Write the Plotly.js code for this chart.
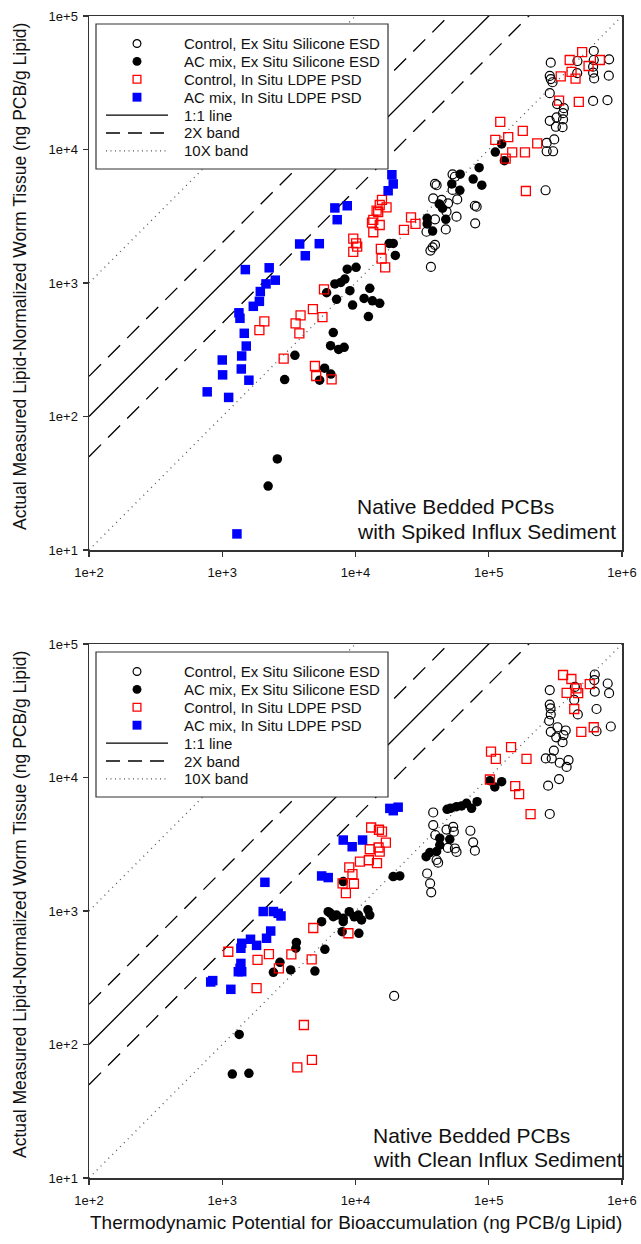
<!DOCTYPE html>
<html>
<head>
<meta charset="utf-8">
<script src="https://cdn.plot.ly/plotly-3.0.1.min.js"></script>
<style>html,body{margin:0;padding:0;background:#fff;}#chart{width:641px;height:1244px;}</style>
</head>
<body>
<div id="chart"></div>
<script>
// ---------- Data: top panel (Native Bedded PCBs with Spiked Influx Sediment) ----------
const ctrlExTopX = [614000,800000,463000,614000,292000,607000,461000,607000,796000,618000,287000,292000,301000,287000,607000,778000,326000,366000,361000,323000,287000,361000,319000,358000,310000,272000,272000,304000,267000,53500,55700,39500,40600,53500,38300,44300,49500,58000,48200,57300,39500,34100,47600,39500,37900,36500,36800,78700,81100,79100];
const ctrlExTopY = [54700,47400,46000,46800,44700,41700,37300,37600,35700,34100,35600,33700,31900,26400,23100,23400,21900,20400,18700,17400,16400,16800,14800,14700,11900,11200,9700,9700,4950,6520,6250,5520,5400,4980,4300,4190,3950,4230,3420,3140,3000,2420,2520,1930,1850,1750,1320,3790,3730,2800];
const acExTopX = [125000,112000,131000,84700,76400,88700,61000,52800,60700,42500,45000,47600,34500,34500,37900,17900,19200,19900,10100,8670,8320,7760,7000,9080,6070,7210,9510,12800,11600,13400,15200,12500,6810,6500,7470,8220,3510,5860,6530,5380,2940,2590,2210];
const acExTopY = [11000,9570,8240,7310,6010,5400,6530,5520,4950,3910,3630,3000,3050,2770,2450,1980,1980,1610,1310,1270,1070,1010,985,876,845,755,684,912,767,736,705,560,425,339,318,330,287,230,208,187,189,48.1,30.1];
const ctrlInTopX = [502000,405000,682000,561000,418000,347000,448000,337000,474000,122000,180000,140000,112000,231000,150000,187000,134000,190000,15800,15200,17100,14400,14800,13600,13300,15200,13600,26100,28200,23100,9620,10100,10300,9620,15500,15700,16700,5800,5650,4790,3870,3550,3790,2070,1900,2890,4960,5070,6620];
const ctrlInTopY = [53700,46800,46800,42200,38100,35300,33900,23200,22700,16100,13800,12400,11800,11100,9530,9530,8530,4890,4190,3840,3690,3480,3390,2970,2830,2720,2400,3100,2770,2500,2150,1980,1870,1710,1800,1520,1310,897,556,638,573,499,420,516,444,271,239,201,190];
const acInTopX = [18750,19190,17580,8670,7000,7290,3810,5350,4200,2250,1490,2500,2130,1930,1900,1710,1334,1358,1463,1514,1399,1000,1390,1006,1585,771,1117,1289];
const acInTopY = [6470,5520,4910,3790,3650,2980,1960,1970,1600,1300,1260,1050,985,863,729,669,598,544,420,337,284,265,227,205,187,153,139,13.2];

// ---------- Data: bottom panel (Native Bedded PCBs with Clean Influx Sediment) ----------
const ctrlExBotX = [625000,781000,620000,443000,625000,800000,287000,438000,466000,644000,287000,291000,292000,284000,824000,644000,292000,328000,378000,364000,321000,358000,308000,268000,297000,341000,397000,384000,337000,279000,287000,38300,38300,39700,48200,54100,54700,72800,76400,78700,49300,55700,57300,40600,41700,34500,36300,37000,19500];
const ctrlExBotY = [59100,50600,53700,47700,44000,42800,45200,38100,29700,32600,35200,33000,29700,26600,24100,22200,22000,23800,22500,20800,20000,18400,15900,13900,13900,12900,13500,12000,9740,8690,5330,5470,4400,3710,4070,4260,3930,3990,3270,2830,2970,2940,2770,2410,2300,1910,1610,1380,231];
const acExBotX = [102000,111000,125000,48700,51600,57300,62500,68100,74300,81800,42900,51000,42900,40600,36100,33900,19200,21500,8090,6240,7210,8090,8980,10500,11100,12400,12800,5570,7940,10600,3600,3570,5890,2710,2420,3260,4960,1340,1190,1585,6810,8090,6500,9800];
const acExBotY = [9460,8490,9310,5780,5880,6040,6120,6410,5880,6590,3510,3440,3120,2790,2740,2550,1810,1830,1660,988,933,881,988,933,857,1020,933,832,700,681,581,526,516,413,347,362,355,119,60.1,60.8,906,832,960,905];
const ctrlInBotX = [361000,417000,573000,384000,469000,456000,438000,495000,614000,104000,147000,113000,192000,102000,158000,169000,206000,13100,15000,15800,16900,12800,14900,15200,10800,12600,14500,8980,9490,8000,9730,8470,4820,8850,3300,4690,1110,1840,2240,2660,1810,4100,4710,3660];
const ctrlInBotY = [58600,54700,50100,43100,42800,46500,32600,22000,23800,15600,16900,13800,13800,9660,8630,7500,5310,4220,4060,3930,3250,2900,2990,2780,2340,2400,2280,2120,1890,1610,1600,1360,746,681,474,434,495,430,476,372,264,140,76.6,67.5];
const acInBotX = [18100,20900,19200,8090,9440,11300,2090,5570,6240,2030,2420,2630,2760,2310,2150,1630,1400,1810,1380,1380,1360,1400,1320,848,819,1160];
const acInBotY = [5870,5990,5640,3400,3030,3400,1640,1830,1780,991,991,961,918,708,625,614,573,553,526,405,372,351,351,301,294,259];

// ---------- Reference lines ----------
const lineFactors = [1, 2, 0.5, 10, 0.1];
const lineKinds   = ['1:1 line', '2X band', '2X band', '10X band', '10X band'];
const lineX = [100, 1000000];

// ---------- Labels ----------
const seriesNames = ['Control, Ex Situ Silicone ESD', 'AC mix, Ex Situ Silicone ESD', 'Control, In Situ LDPE PSD', 'AC mix, In Situ LDPE PSD'];
const lineNames = ['1:1 line', '2X band', '10X band'];
const panelLabels = [['Native Bedded PCBs', 'with Spiked Influx Sediment'], ['Native Bedded PCBs', 'with Clean Influx Sediment']];
const tickVals = [10, 100, 1000, 10000, 100000, 1000000];
const tickText = ['1e+1', '1e+2', '1e+3', '1e+4', '1e+5', '1e+6'];
const xTitle = 'Thermodynamic Potential for Bioaccumulation (ng PCB/g Lipid)';
const yTitle = 'Actual Measured Lipid-Normalized Worm Tissue (ng PCB/g Lipid)';

// ---------- Styles ----------
const FONT = 'Liberation Sans, Arial, sans-serif';
const lineStyles = {
  '1:1 line': {color: '#000', width: 1.3, dash: 'solid'},
  '2X band':  {color: '#000', width: 1.3, dash: '17px,10px'},
  '10X band': {color: '#555', width: 1.3, dash: '1px,4.5px'}
};
const legendLineStyles = {
  '1:1 line': {color: '#000', width: 1.3, dash: 'solid'},
  '2X band':  {color: '#000', width: 1.3, dash: '14px,8px'},
  '10X band': {color: '#555', width: 1.3, dash: '1px,3.5px'}
};
const markerStyles = [
  {symbol: 'circle-open', size: 9, color: '#000', line: {color: '#000', width: 1.2}},
  {symbol: 'circle', size: 9.5, color: '#000', line: {width: 0}},
  {symbol: 'square-open', size: 9, color: '#ff0000', line: {color: '#ff0000', width: 1.3}},
  {symbol: 'square', size: 9.5, color: '#0000ff', line: {width: 0}}
];

const panels = [
  {xa: 'x', ya: 'y', data: [[ctrlExTopX, ctrlExTopY], [acExTopX, acExTopY], [ctrlInTopX, ctrlInTopY], [acInTopX, acInTopY]]},
  {xa: 'x2', ya: 'y2', data: [[ctrlExBotX, ctrlExBotY], [acExBotX, acExBotY], [ctrlInBotX, ctrlInBotY], [acInBotX, acInBotY]]}
];

const traces = [];
panels.forEach(p => {
  lineFactors.forEach((f, i) => {
    traces.push({
      type: 'scatter', mode: 'lines', xaxis: p.xa, yaxis: p.ya,
      x: lineX, y: lineX.map(v => v * f), line: lineStyles[lineKinds[i]],
      showlegend: false, hoverinfo: 'skip', name: lineKinds[i]
    });
  });
  p.data.forEach((d, i) => {
    traces.push({
      type: 'scatter', mode: 'markers', xaxis: p.xa, yaxis: p.ya,
      x: d[0], y: d[1], name: seriesNames[i], marker: markerStyles[i], showlegend: false
    });
  });
});

// ---------- Layout geometry (pixels) ----------
const WID = 641, HEI = 1244;
const ML = 89, MR = 19, MT = 16, MB = 66;
const PW = WID - ML - MR, PH = HEI - MT - MB;
const topPanel = [16, 550], botPanel = [644, 1178];
const px = v => (v - ML) / PW;
const py = v => (HEI - MB - v) / PH;

function axisCommon(isX) {
  return {
    type: 'log', showgrid: false, zeroline: false, showline: true, mirror: true,
    linecolor: '#333', linewidth: 1.5, ticks: 'outside', ticklen: 5, tickwidth: 1.3, tickcolor: '#333',
    tickmode: 'array', tickvals: tickVals, ticktext: tickText, ticklabelstandoff: isX ? 5 : 2,
    tickfont: {family: FONT, size: 13, color: '#111'}
  };
}

const shapes = [], annotations = [];
[topPanel, botPanel].forEach((pn, k) => {
  const bt = pn[0] + 8;
  shapes.push({type: 'rect', xref: 'paper', yref: 'paper', layer: 'above',
    x0: px(96), x1: px(388), y0: py(bt), y1: py(bt + 145),
    fillcolor: '#fff', line: {color: '#333', width: 1.2}});
  const rowY = i => bt + 19.5 + 17.9 * i;
  seriesNames.forEach((nm, i) => {
    const st = markerStyles[i];
    const isCircle = st.symbol.indexOf('circle') === 0;
    const filled = st.symbol.indexOf('open') < 0;
    const r = filled ? 4.4 : 3.9;
    shapes.push({type: isCircle ? 'circle' : 'rect', xref: 'paper', yref: 'paper', layer: 'above',
      xsizemode: 'pixel', ysizemode: 'pixel', xanchor: px(137), yanchor: py(rowY(i)),
      x0: -r, x1: r, y0: -r, y1: r,
      fillcolor: filled ? st.color : 'rgba(0,0,0,0)',
      line: {color: filled ? st.color : st.line.color, width: filled ? 0.1 : st.line.width}});
    annotations.push({xref: 'paper', yref: 'paper', x: px(182), y: py(rowY(i)), xanchor: 'left', yanchor: 'middle',
      text: nm, showarrow: false, font: {family: FONT, size: 15, color: '#111'}});
  });
  lineNames.forEach((nm, j) => {
    const i = j + 4;
    shapes.push({type: 'line', xref: 'paper', yref: 'paper', layer: 'above',
      x0: px(106), x1: px(168), y0: py(rowY(i)), y1: py(rowY(i)), line: legendLineStyles[nm]});
    annotations.push({xref: 'paper', yref: 'paper', x: px(182), y: py(rowY(i)), xanchor: 'left', yanchor: 'middle',
      text: nm, showarrow: false, font: {family: FONT, size: 15, color: '#111'}});
  });
  // panel label
  const lx = k === 0 ? 355 : 371;
  const ly = k === 0 ? [506.7, 531.7] : [1135, 1159.3];
  panelLabels[k].forEach((t, i) => {
    annotations.push({xref: 'paper', yref: 'paper', x: px(lx), y: py(ly[i]), xanchor: 'left', yanchor: 'middle',
      text: t, showarrow: false, font: {family: FONT, size: 21, color: '#111'}});
  });
  // y title
  annotations.push({xref: 'paper', yref: 'paper', x: px(20), y: py((pn[0] + pn[1]) / 2 - 6), xanchor: 'center', yanchor: 'middle',
    text: yTitle, textangle: -90, showarrow: false, font: {family: FONT, size: 17.5, color: '#111'}});
});
annotations.push({xref: 'paper', yref: 'paper', x: px(355.5), y: py(1222), xanchor: 'center', yanchor: 'middle',
  text: xTitle, showarrow: false, font: {family: FONT, size: 19, color: '#111'}});

const layout = {
  width: WID, height: HEI, margin: {l: ML, r: MR, t: MT, b: MB},
  paper_bgcolor: '#fff', plot_bgcolor: '#fff', showlegend: false,
  font: {family: FONT, color: '#111'},
  xaxis: Object.assign(axisCommon(true), {domain: [0, 1], anchor: 'y', range: [2, 6]}),
  yaxis: Object.assign(axisCommon(false), {domain: [py(topPanel[1]), py(topPanel[0])], anchor: 'x', range: [1, 5]}),
  xaxis2: Object.assign(axisCommon(true), {domain: [0, 1], anchor: 'y2', range: [2, 6]}),
  yaxis2: Object.assign(axisCommon(false), {domain: [py(botPanel[1]), py(botPanel[0])], anchor: 'x2', range: [1, 5]}),
  shapes: shapes, annotations: annotations
};

Plotly.newPlot('chart', traces, layout, {staticPlot: true, displayModeBar: false});
</script>
</body>
</html>
